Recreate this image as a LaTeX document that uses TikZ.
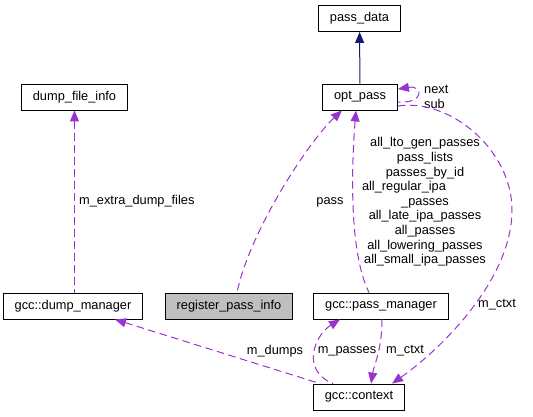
\documentclass[tikz,border=0pt]{standalone}
\usepackage{fontspec}
\setmainfont{Liberation Sans}
\usetikzlibrary{arrows.meta}
\definecolor{memberc}{HTML}{9A32CD}
\definecolor{inheritc}{HTML}{191970}
\definecolor{boxgray}{HTML}{BFBFBF}
\begin{document}
\begin{tikzpicture}[x=1pt,y=-1pt,>={Triangle[length=11pt,width=9pt]},
  classbox/.style={rectangle,draw=black,line width=0.9pt,inner xsep=11.5pt,inner ysep=0pt,minimum height=26pt,font=\fontsize{12.8}{14.6}\selectfont},
  memberedge/.style={draw=memberc,line width=1pt,dash pattern=on 7.5pt off 4.5pt},
  lbl/.style={inner sep=0pt,font=\fontsize{12.8}{14.6}\selectfont}]
\useasboundingbox (0,0) rectangle (533,416);

%classes
\node[classbox] (passdata) at (359.5,18.5) {pass\_data};
\node[classbox] (optpass) at (360,97) {opt\_pass};
\node[classbox] (dumpinfo) at (74.5,97) {dump\_file\_info};
\node[classbox] (dumpmgr) at (73,306) {gcc::dump\_manager};
\node[classbox,fill=boxgray] (regpass) at (229,306) {register\_pass\_info};
\node[classbox] (passmgr) at (381,306) {gcc::pass\_manager};
\node[classbox] (context) at (359,397) {gcc::context};

%inheritance
\draw[->,draw=inheritc,line width=1pt] (optpass) -- (passdata);

%members
\draw[memberedge,<-] (dumpinfo.south) -- (dumpinfo.south |- dumpmgr.north);
\node[lbl,anchor=west] (lextra) at (79,201) {m\_extra\_dump\_files};

\draw[memberedge,<-] ([xshift=-18pt]optpass.south) .. controls (310,140) and (250,230) .. ([xshift=8pt]regpass.north);
\node[lbl] (lpass) at (330,202) {pass};

\draw[memberedge,<-] ([xshift=-4pt]optpass.south) .. controls (352,160) and (348,250) .. ([xshift=-12pt]passmgr.north);
\node[lbl,align=center] (llists) at (425,202) {all\_lto\_gen\_passes\\pass\_lists\\passes\_by\_id\\\makebox[126pt][l]{all\_regular\_ipa}\\\_passes\\all\_late\_ipa\_passes\\all\_passes\\all\_lowering\_passes\\all\_small\_ipa\_passes};

% self loop
\draw[memberedge,<-] ([yshift=8pt]optpass.east) .. controls (424,85) and (424,104) .. ([yshift=-5pt]optpass.east);
\node[lbl,align=left,anchor=west] (lnext) at (424,97) {next\\sub};

\draw[memberedge,->] ([yshift=-9pt]optpass.east) .. controls (450,98) and (512,150) .. (512,210) .. controls (512,280) and (440,350) .. ([xshift=33pt]context.north);
\node[lbl] (lctxt) at (497,305) {m\_ctxt};

\draw[memberedge,->] ([xshift=1pt]passmgr.south) .. controls (382,350) and (374,365) .. ([xshift=12pt]context.north);
\node[lbl] (lctxt2) at (405,351) {m\_ctxt};

\draw[memberedge,<-] ([xshift=-41pt]passmgr.south) .. controls (315,335) and (300,370) .. ([xshift=-26pt]context.north);
\node[lbl] (lpasses) at (347,351) {m\_passes};

\draw[memberedge,<-] ([xshift=42pt]dumpmgr.south) -- ([xshift=-39pt]context.north);
\node[lbl] (ldumps) at (275,351) {m\_dumps};

\end{tikzpicture}
\end{document}
